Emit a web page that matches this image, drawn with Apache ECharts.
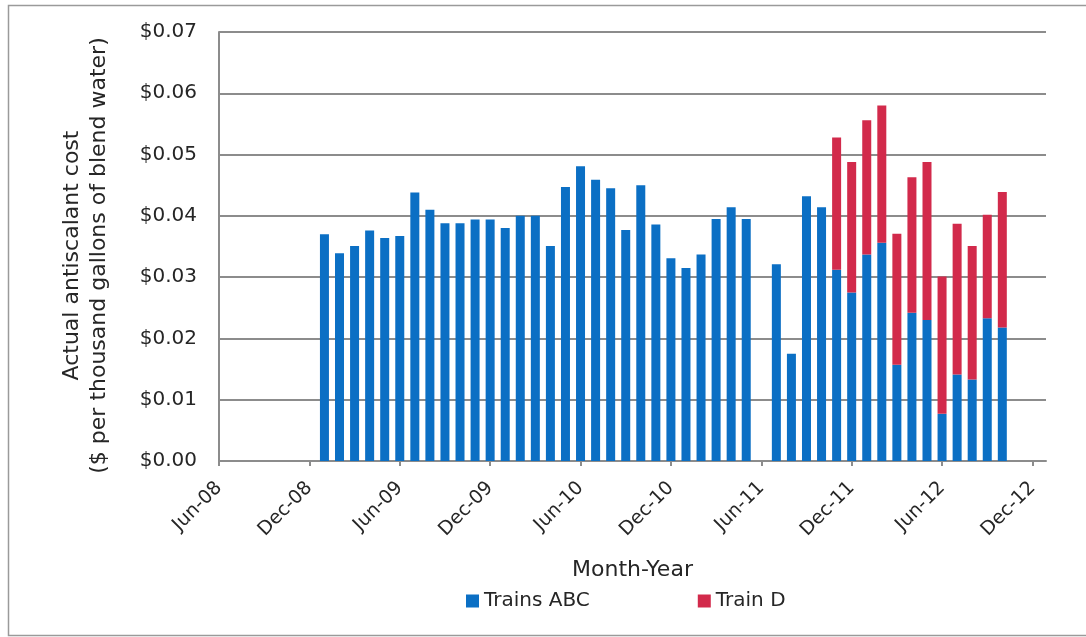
<!DOCTYPE html>
<html>
<head>
<meta charset="utf-8">
<script src="https://cdn.jsdelivr.net/npm/echarts@6/dist/echarts.min.js"></script>
<style>
    html, body {margin: 0; padding: 0; background: #fff;}
    #container {width: 1086px; height: 637px;}
</style>
</head>
<body>
<div id="container"></div>
<script>
// monthly data, Jan-09 .. Oct-12 (no reading for Jun-11)
var months = [
    '2009-01', '2009-02', '2009-03', '2009-04', '2009-05', '2009-06', '2009-07', '2009-08', '2009-09', '2009-10', '2009-11', '2009-12',
    '2010-01', '2010-02', '2010-03', '2010-04', '2010-05', '2010-06', '2010-07', '2010-08', '2010-09', '2010-10', '2010-11', '2010-12',
    '2011-01', '2011-02', '2011-03', '2011-04', '2011-05', '2011-06', '2011-07', '2011-08', '2011-09', '2011-10', '2011-11', '2011-12',
    '2012-01', '2012-02', '2012-03', '2012-04', '2012-05', '2012-06', '2012-07', '2012-08', '2012-09', '2012-10'
];
var trainsABC = [
    0.0370, 0.0339, 0.0351, 0.0376, 0.0364, 0.0367, 0.0438, 0.0410, 0.0388, 0.0388, 0.0394, 0.0394,
    0.0380, 0.0400, 0.0400, 0.0351, 0.0447, 0.0481, 0.0459, 0.0445, 0.0377, 0.0450, 0.0386, 0.0331,
    0.0315, 0.0337, 0.0395, 0.0414, 0.0395, null, 0.0321, 0.0175, 0.0432, 0.0414, 0.0312, 0.0275,
    0.0337, 0.0356, 0.0157, 0.0242, 0.0230, 0.0077, 0.0141, 0.0133, 0.0233, 0.0218
];
var trainD = [
    null, null, null, null, null, null, null, null, null, null, null, null,
    null, null, null, null, null, null, null, null, null, null, null, null,
    null, null, null, null, null, null, null, null, null, null, 0.0216, 0.0213,
    0.0219, 0.0224, 0.0214, 0.0221, 0.0258, 0.0224, 0.0246, 0.0218, 0.0169, 0.0221
];
var tickLabels = ['Jun-08', 'Dec-08', 'Jun-09', 'Dec-09', 'Jun-10', 'Dec-10', 'Jun-11', 'Dec-11', 'Jun-12', 'Dec-12'];
var seriesNames = ['Trains ABC', 'Train D'];

// months counted from Jun-08
function monthIndex(m) {
    var p = m.split('-');
    return (parseInt(p[0]) - 2008) * 12 + parseInt(p[1], 10) - 6;
}

function createChart() {
    var dom = document.getElementById("container");
    var myChart = echarts.init(dom, null, {renderer: 'canvas'});
    var font = 'DejaVu Sans';
    var tickValues = [];
    for (var i = 0; i < tickLabels.length; i++) {
        tickValues.push(i * 6);
    }
    // value first so the stack is done on the cost dimension
    var abcData = [];
    var dData = [];
    for (var i = 0; i < months.length; i++) {
        abcData.push([trainsABC[i], monthIndex(months[i])]);
        dData.push([trainD[i], monthIndex(months[i])]);
    }
    var option = {
        animation: false,
        color: ['#0b6fc4', '#d22a4b'],
        textStyle: {fontFamily: font, color: '#262626'},
        graphic: [{
            type: 'rect',
            shape: {x: 8.5, y: 5.5, width: 1100, height: 630},
            style: {fill: 'none', stroke: '#9a9a9a', lineWidth: 1.5},
            silent: true
        }],
        grid: {
            left: 219,
            right: 40,
            top: 32,
            bottom: 176,
            outerBoundsMode: 'none'
        },
        legend: {
            data: seriesNames,
            left: 461,
            top: 586,
            icon: 'rect',
            itemWidth: 13,
            itemHeight: 13,
            itemGap: 108,
            textStyle: {fontFamily: font, fontSize: 20, color: '#262626'}
        },
        xAxis: {
            type: 'value',
            min: 0,
            max: 54.9,
            interval: 6,
            name: 'Month-Year',
            nameLocation: 'middle',
            nameGap: 98,
            nameTextStyle: {fontFamily: font, fontSize: 22, color: '#262626'},
            splitLine: {show: false},
            axisLine: {show: true, lineStyle: {color: '#8c8c8c', width: 2}},
            axisTick: {show: true, length: 5, customValues: tickValues, lineStyle: {color: '#8c8c8c', width: 2}},
            axisLabel: {
                customValues: tickValues,
                rotate: 45,
                margin: 24,
                fontFamily: font,
                fontSize: 19,
                color: '#262626',
                formatter: function (v) {
                    return tickLabels[Math.round(v / 6)] || '';
                }
            }
        },
        yAxis: {
            type: 'value',
            min: 0,
            max: 0.07,
            interval: 0.01,
            name: 'Actual antiscalant cost\n($ per thousand gallons of blend water)',
            nameLocation: 'middle',
            nameGap: 106,
            nameTextStyle: {fontFamily: font, fontSize: 22, lineHeight: 27, color: '#262626', padding: [0, 18, 0, 0]},
            axisLine: {show: true, lineStyle: {color: '#8c8c8c', width: 2}},
            axisTick: {show: false},
            splitLine: {show: true, lineStyle: {color: '#8c8c8c', width: 2}},
            axisLabel: {
                margin: 22,
                fontFamily: font,
                fontSize: 20,
                color: '#262626',
                formatter: function (v) {
                    return '$' + v.toFixed(2);
                }
            }
        },
        series: [{
            name: seriesNames[0],
            type: 'bar',
            stack: 'cost',
            barWidth: 9,
            encode: {x: 1, y: 0},
            data: abcData
        }, {
            name: seriesNames[1],
            type: 'bar',
            stack: 'cost',
            barWidth: 9,
            encode: {x: 1, y: 0},
            data: dData
        }]
    };
    myChart.setOption(option, true);
}

createChart();
</script>
</body>
</html>
